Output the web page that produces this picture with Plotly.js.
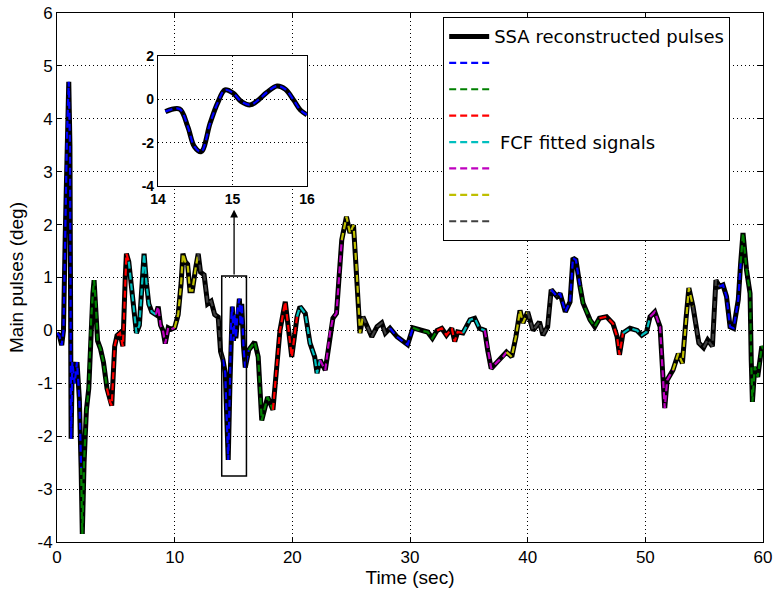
<!DOCTYPE html>
<html>
<head>
<meta charset="utf-8">
<script src="https://cdn.plot.ly/plotly-3.0.1.min.js"></script>
<style>
  html, body { margin: 0; padding: 0; background: #fff; }
  #chart { width: 774px; height: 591px; }
</style>
</head>
<body>
<div id="chart"></div>
<script>
// ---- data ----
const time = [
  0, 0.2, 0.4, 0.55, 0.7, 0.85, 1.0, 1.1, 1.2, 1.3,
  1.5, 1.7, 1.9, 2.05, 2.15, 2.3, 2.5, 2.7, 2.9, 3.05,
  3.15, 3.3, 3.45, 3.7, 3.95, 4.25, 4.5, 4.65, 4.9, 5.1,
  5.35, 5.6, 5.8, 5.9, 6.1, 6.4, 6.75, 7.0, 7.2, 7.4,
  7.6, 7.8, 8.05, 8.4, 8.6, 8.8, 9.0, 9.2, 9.45, 9.7,
  10.0, 10.3, 10.55, 10.7, 10.9, 11.1, 11.3, 11.5, 11.8, 12.0,
  12.2, 12.5, 12.8, 13.1, 13.4, 13.7, 13.9, 14.1, 14.3, 14.4,
  14.55, 14.7, 14.8, 14.9, 15.0, 15.1, 15.2, 15.35, 15.5, 15.6,
  15.7, 15.85, 16.0, 16.3, 16.8, 17.1, 17.4, 17.9, 18.35, 18.95,
  19.4, 19.95, 20.4, 20.65, 21.1, 21.5, 21.9, 22.1, 22.35, 22.8,
  23.2, 23.45, 23.75, 23.9, 24.2, 24.6, 24.9, 25.2, 25.45, 25.75,
  26.0, 26.75, 27.2, 27.6, 27.9, 28.3, 28.9, 29.6, 29.8, 30.25,
  30.85, 31.5, 31.9, 32.3, 32.7, 33.1, 33.55, 33.8, 34.05, 34.5,
  35.1, 35.5, 35.9, 36.35, 36.6, 36.9, 37.4, 37.9, 38.2, 38.65,
  39.0, 39.35, 39.6, 40.0, 40.45, 41.0, 41.3, 41.7, 42.0, 42.5,
  42.75, 43.2, 43.6, 43.85, 44.1, 44.45, 44.7, 45.3, 45.7, 46.1,
  46.7, 47.25, 47.6, 47.8, 48.1, 48.7, 49.3, 49.7, 50.1, 50.4,
  50.8, 51.25, 51.5, 51.65, 51.85, 52.35, 52.8, 53.15, 53.45, 53.7,
  54.05, 54.55, 54.95, 55.3, 55.7, 56.0, 56.3, 56.6, 56.9, 57.2,
  57.5, 57.9, 58.1, 58.3, 58.6, 58.9, 59.0, 59.1, 59.3, 59.55,
  59.9, 60.0
];
const pulse = [
  -0.05, -0.1, -0.28, 0.0, 1.8, 3.7, 4.7, 3.5, -2.05, -0.6,
  -1.0, -0.6, -1.3, -2.6, -3.85, -2.5, -1.5, -1.1, 0.2, 0.7,
  0.95, 0.5, -0.2, -0.35, -0.6, -1.1, -1.35, -1.42, -0.3, -0.1,
  -0.05, -0.3, 1.0, 1.45, 1.3, 0.7, -0.05, 0.1, 0.8, 1.45,
  0.9, 0.5, 0.35, 0.3, 0.45, 0.1, 0.0, -0.25, 0.05, 0.02,
  0.05, 0.3, 0.9, 1.45, 1.3, 1.25, 0.75, 0.75, 1.2, 1.45,
  1.1, 1.05, 0.5, 0.55, 0.3, 0.25, -0.4, -0.55, -0.8, -1.5,
  -2.45, -1.0, 0.2, 0.45, -0.2, 0.3, -0.15, 0.4, 0.6, 0.1,
  0.5, -0.3, -0.7, -0.37, -0.22, -0.5, -1.7, -1.26, -1.5, 0.0,
  0.54, -0.5, 0.26, 0.45, 0.32, -0.24, -0.5, -0.81, -0.56, -0.75,
  -0.05, 0.23, 0.32, 0.83, 1.71, 2.15, 1.84, 1.99, 1.2, -0.05,
  0.26, -0.12, 0.07, 0.14, -0.05, 0.04, -0.12, -0.24, -0.27, 0.05,
  0.0, -0.03, -0.15, 0.0, 0.04, -0.09, 0.04, -0.21, -0.03, -0.05,
  0.2, 0.23, 0.04, 0.0, -0.37, -0.72, -0.6, -0.5, -0.41, -0.5,
  -0.12, 0.38, 0.14, 0.35, 0.0, 0.16, -0.09, 0.07, 0.77, 0.64,
  0.7, 0.35, 0.54, 1.37, 1.33, 0.83, 0.52, 0.2, 0.07, 0.23,
  0.26, 0.13, -0.12, -0.46, -0.05, 0.04, 0.0, -0.09, -0.03, 0.26,
  0.35, 0.07, -0.88, -1.47, -0.94, -0.75, -0.44, -0.62, 0.2, 0.8,
  0.45, -0.24, -0.33, -0.18, -0.3, 0.95, 0.83, 0.86, 0.64, 0.07,
  0.04, 0.58, 1.27, 1.84, 1.14, 0.7, -0.56, -1.35, -0.69, -0.88,
  -0.3, -0.35
];
// boundaries of the FCF-fitted pulse segments (sec)
const segmentBreaks = [0, 2.0, 4.1, 5.95, 8.1, 9.8, 11.9, 14.05, 16.05, 18.0, 20.1,
  22.2, 24.0, 25.9, 28.1, 30.0, 32.1, 34.2, 36.1, 38.0, 39.8, 42.0, 44.2, 45.9,
  48.0, 50.2, 52.0, 53.9, 56.1, 58.0, 60.0];
const segmentColors = ['#0000ff', '#008000', '#ff0000', '#00bfbf', '#bf00bf', '#bfbf00', '#404040'];

// zoomed inset (14–16 s)
const insetTime = [14.10, 14.29, 14.40, 14.49, 14.58, 14.70, 14.80, 14.90, 15.01,
  15.12, 15.24, 15.35, 15.46, 15.60, 15.71, 15.82, 15.91, 16.0];
const insetPulse = [-0.57, -0.45, -1.26, -2.19, -2.42, -1.11, -0.18, 0.43, 0.28,
  -0.11, -0.26, -0.03, 0.31, 0.61, 0.46, -0.03, -0.49, -0.72];

const xTickVals = [0, 10, 20, 30, 40, 50, 60];
const xTickText = ['0', '10', '20', '30', '40', '50', '60'];
const yTickVals = [-4, -3, -2, -1, 0, 1, 2, 3, 4, 5, 6];
const yTickText = ['-4', '-3', '-2', '-1', '0', '1', '2', '3', '4', '5', '6'];
const insetXTickVals = [14, 15, 16];
const insetXTickText = ['14', '15', '16'];
const insetYTickVals = [-4, -2, 0, 2];
const insetYTickText = ['-4', '-2', '0', '2'];

const legendSSA = 'SSA reconstructed pulses';
const legendFCF = '\u00a0FCF fitted signals';

// ---- traces ----
const FONT = 'Liberation Sans, Arial, Helvetica, sans-serif';
const LEGEND_FONT = 'DejaVu Sans, Liberation Sans, sans-serif';
const DASH = '7px,4px';
const traces = [];
traces.push({
  x: time, y: pulse, type: 'scatter', mode: 'lines',
  name: legendSSA,
  line: { color: '#000', width: 5 },
  xaxis: 'x', yaxis: 'y'
});
for (let i = 0; i < segmentBreaks.length - 1; i++) {
  const a = segmentBreaks[i], b = segmentBreaks[i + 1];
  const sx = [], sy = [];
  let added = false;
  for (let k = 0; k < time.length; k++) {
    if (time[k] >= a && time[k] <= b) { sx.push(time[k]); sy.push(pulse[k]); }
    else if (time[k] > b && !added) { sx.push(time[k]); sy.push(pulse[k]); added = true; }
  }
  const ci = i % segmentColors.length;
  traces.push({
    x: sx, y: sy, type: 'scatter', mode: 'lines',
    name: i === 3 ? legendFCF : ' ',
    showlegend: i < segmentColors.length,
    line: { color: segmentColors[ci], width: 2.2, dash: DASH },
    xaxis: 'x', yaxis: 'y'
  });
}
traces.push({
  x: insetTime, y: insetPulse, type: 'scatter', mode: 'lines',
  showlegend: false, line: { color: '#000', width: 5, shape: 'spline' },
  xaxis: 'x2', yaxis: 'y2'
});
traces.push({
  x: insetTime, y: insetPulse, type: 'scatter', mode: 'lines',
  showlegend: false, line: { color: '#0000ff', width: 2.2, dash: DASH, shape: 'spline' },
  xaxis: 'x2', yaxis: 'y2'
});

const gridStyle = { showgrid: true, gridcolor: '#000', gridwidth: 1, griddash: '1px,3px' };

const layout = {
  width: 774, height: 591,
  margin: { l: 57, r: 11, t: 13, b: 49 },
  paper_bgcolor: '#fff', plot_bgcolor: '#fff',
  font: { family: FONT, color: '#000' },
  showlegend: true,
  legend: {
    x: 0.547, y: 0.992, xanchor: 'left', yanchor: 'top',
    bgcolor: '#fff', bordercolor: '#000', borderwidth: 1,
    font: { family: LEGEND_FONT, size: 18, color: '#000' },
    itemwidth: 40, tracegroupgap: 0
  },
  xaxis: Object.assign({
    range: [0, 60], tickmode: 'array', tickvals: xTickVals, ticktext: xTickText,
    ticks: 'inside', ticklen: 5, tickcolor: '#000',
    showline: true, linecolor: '#000', linewidth: 1, mirror: 'ticks',
    zeroline: false, tickfont: { family: FONT, size: 17 },
    title: { text: 'Time (sec)', font: { family: FONT, size: 19 }, standoff: 4 }
  }, gridStyle),
  yaxis: Object.assign({
    range: [-4, 6], tickmode: 'array', tickvals: yTickVals, ticktext: yTickText,
    ticks: 'inside', ticklen: 5, tickcolor: '#000',
    showline: true, linecolor: '#000', linewidth: 1, mirror: 'ticks',
    zeroline: false, tickfont: { family: FONT, size: 17 },
    title: { text: 'Main pulses (deg)', font: { family: FONT, size: 19 }, standoff: 8 }
  }, gridStyle),
  xaxis2: Object.assign({
    domain: [0.143, 0.354], anchor: 'y2', range: [14, 16],
    tickmode: 'array', tickvals: insetXTickVals, ticktext: insetXTickText,
    ticks: '', showline: true, linecolor: '#000', linewidth: 1, mirror: true,
    zeroline: false, tickfont: { family: FONT, size: 14, weight: 'bold' }
  }, gridStyle),
  yaxis2: Object.assign({
    domain: [0.673, 0.919], anchor: 'x2', range: [-4, 2],
    tickmode: 'array', tickvals: insetYTickVals, ticktext: insetYTickText,
    ticks: '', showline: true, linecolor: '#000', linewidth: 1, mirror: true,
    zeroline: false, tickfont: { family: FONT, size: 14, weight: 'bold' }
  }, gridStyle),
  shapes: [
    { type: 'rect', xref: 'x2', yref: 'y2', x0: 14, x1: 16, y0: -4, y1: 2,
      fillcolor: '#fff', line: { width: 0 }, layer: 'below' },
    { type: 'rect', xref: 'x', yref: 'y', x0: 14.0, x1: 16.1, y0: -2.75, y1: 1.03,
      line: { color: '#000', width: 1.5 }, fillcolor: 'rgba(0,0,0,0)', layer: 'above' }
  ],
  annotations: [
    { x: 15.05, y: 2.28, xref: 'x', yref: 'y', ax: 15.05, ay: 1.03, axref: 'x', ayref: 'y',
      text: '', showarrow: true, arrowhead: 2, arrowsize: 1.2, arrowwidth: 1.3, arrowcolor: '#000' }
  ]
};

Plotly.newPlot('chart', traces, layout, { displayModeBar: false, staticPlot: true });
</script>
</body>
</html>
